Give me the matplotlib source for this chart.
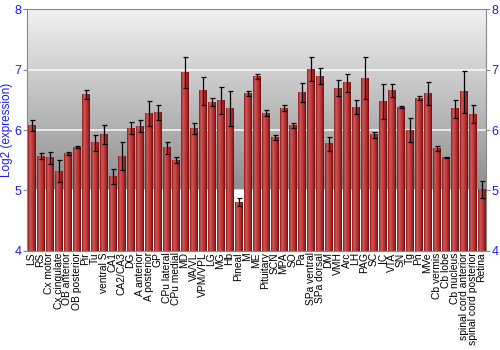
import numpy as np
import matplotlib
matplotlib.use('Agg')
import matplotlib.pyplot as plt
from matplotlib.colors import LinearSegmentedColormap

plt.rcParams['font.family'] = ['Liberation Sans', 'DejaVu Sans']

# brain regions and log2 expression (mean, error)
regions = ['LS', 'RS', 'Cx motor', 'Cx cingulate', 'OB anterior', 'OB posterior',
           'Pir', 'Tu', 'ventral S', 'CA1', 'CA2/CA3', 'DG', 'A anterior',
           'A posterior', 'GP', 'CPu lateral', 'CPu medial', 'MD', 'VA/VL',
           'VPM/VPL', 'LG', 'MG', 'Hb', 'Pineal', 'M', 'ME', 'Pituitary', 'SCN',
           'MPA', 'SO', 'Pa', 'SPa ventral', 'SPa dorsal', 'DM', 'VMH', 'Arc',
           'LH', 'PAG', 'SC', 'IC', 'VTA', 'SN', 'Tg', 'Pn', 'MVe', 'Cb vermis',
           'Cb lobe', 'Cb nucleus', 'spinal cord anterior',
           'spinal cord posterior', 'Retina']
values = [6.08, 5.57, 5.54, 5.32, 5.61, 5.72, 6.59, 5.79, 5.93, 5.23, 5.57,
          6.03, 6.06, 6.27, 6.29, 5.71, 5.50, 6.95, 6.03, 6.65, 6.46, 6.49,
          6.36, 4.81, 6.61, 6.88, 6.28, 5.88, 6.36, 6.08, 6.62, 7.01, 6.89,
          5.77, 6.69, 6.78, 6.38, 6.86, 5.92, 6.47, 6.65, 6.38, 6.00, 6.53,
          6.61, 5.70, 5.54, 6.35, 6.63, 6.26, 5.02]
errors = [0.09, 0.05, 0.10, 0.18, 0.03, 0.02, 0.08, 0.13, 0.16, 0.12, 0.23,
          0.10, 0.10, 0.21, 0.13, 0.10, 0.05, 0.26, 0.09, 0.23, 0.07, 0.22,
          0.29, 0.07, 0.04, 0.04, 0.05, 0.04, 0.05, 0.04, 0.16, 0.20, 0.13,
          0.12, 0.13, 0.15, 0.12, 0.35, 0.05, 0.29, 0.11, 0.02, 0.20, 0.04,
          0.19, 0.04, 0.01, 0.15, 0.35, 0.15, 0.14]

fig = plt.figure(figsize=(5, 3.5), dpi=100)
ax = fig.add_axes([0.054, 0.283, 0.918, 0.691])

x = np.arange(len(regions))
xmin, xmax = -0.5, len(regions) - 0.5
ax.set_xlim(xmin, xmax)
ax.set_ylim(4, 8)

# background: gray gradient from top down to 5, white below
bg = LinearSegmentedColormap.from_list('bg', ['#8e8e8e', '#f2f2f2'])
grad = np.linspace(0, 1, 256).reshape(-1, 1)
ax.imshow(grad, cmap=bg, aspect='auto', extent=(xmin, xmax, 5, 8),
          origin='lower', zorder=0)
for g in [5, 6, 7]:
    ax.axhline(g, color='white', lw=1.2, alpha=0.85, zorder=1)

# bars with horizontal red shading
barcm = LinearSegmentedColormap.from_list(
    'bar', ['#8a1e1e', '#d45656', '#c04040', '#a82a2a', '#6e1010'])
shade = np.linspace(0, 1, 32).reshape(1, -1)
w = 0.88
for xi, v in zip(x, values):
    ax.imshow(shade, cmap=barcm, aspect='auto',
              extent=(xi - w / 2, xi + w / 2, 4, v), zorder=2)
ax.errorbar(x, values, yerr=errors, fmt='none', ecolor='black',
            elinewidth=0.9, capsize=1.8, capthick=0.9, zorder=3)

ax.set_xticks(x)
ax.set_xticklabels(regions, rotation=90, fontsize=7.4)
ax.tick_params(axis='x', length=0, pad=1)
ax.set_yticks([4, 5, 6, 7, 8])
ax.tick_params(axis='y', colors='#888888', labelcolor='#1a1aff',
               labelsize=9, length=3, pad=1, right=True, labelright=True)
ax.set_ylabel('Log2 (expression)', color='#1a1aff', fontsize=8.5, labelpad=1)
for s in ax.spines.values():
    s.set_color('#888888')
    s.set_linewidth(0.8)

fig.savefig('out.png', dpi=100)
